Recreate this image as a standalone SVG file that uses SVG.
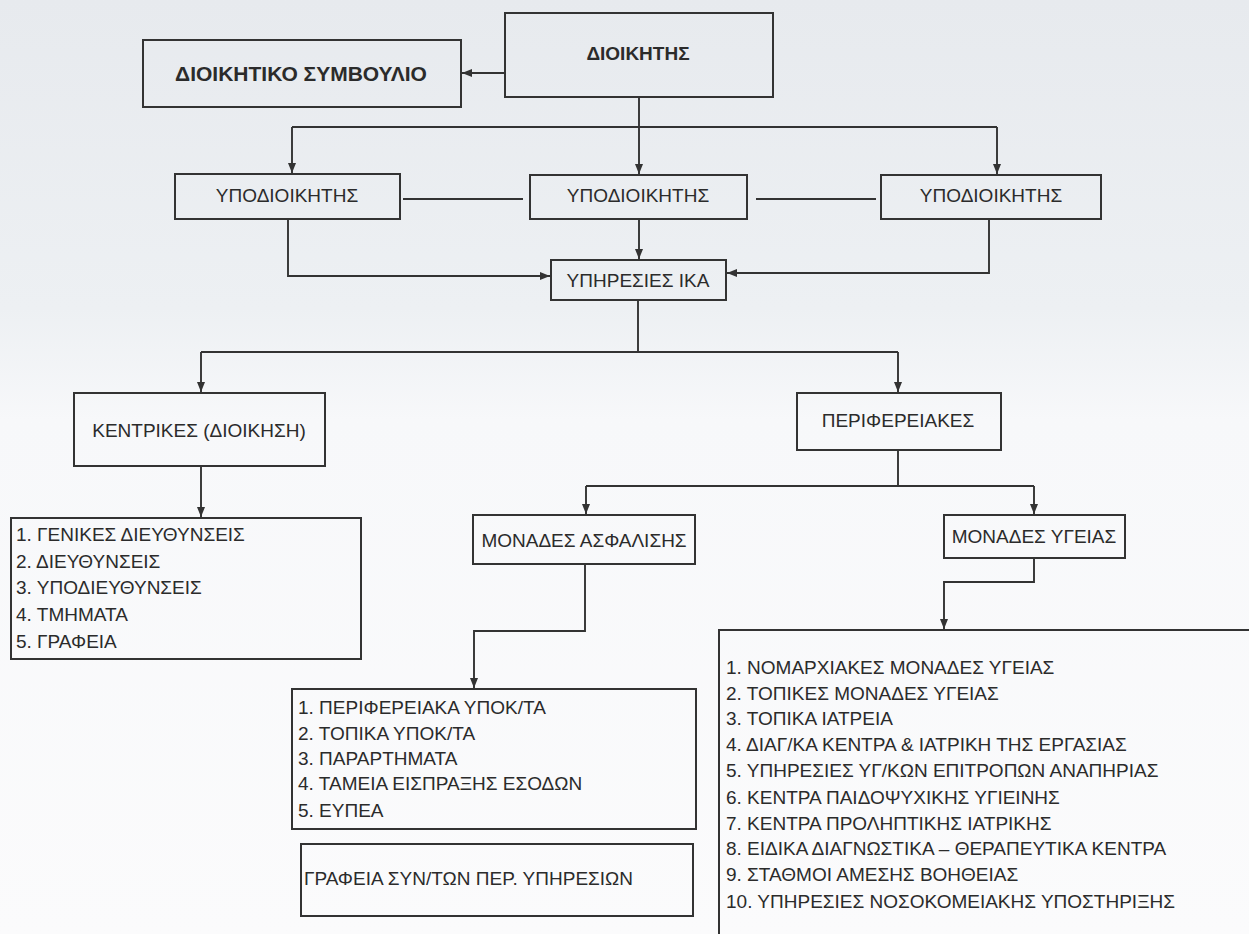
<svg xmlns="http://www.w3.org/2000/svg" width="1249" height="934" viewBox="0 0 1249 934">
<style>
.box{fill:none;stroke:#333;stroke-width:2}
.t{font-family:"Liberation Sans",Arial,sans-serif;font-size:19px;fill:#2b2b2b}
.c{text-anchor:middle}
.b{font-weight:bold;font-size:19px}
.b2{font-weight:bold;font-size:21px}
.ln{fill:none;stroke:#333;stroke-width:1.9}
</style>
<defs>
<linearGradient id="bg" x1="0" y1="0" x2="0" y2="1">
<stop offset="0" stop-color="#e7eaee"/>
<stop offset="0.33" stop-color="#edf0f3"/>
<stop offset="0.45" stop-color="#f7f8fa"/>
<stop offset="1" stop-color="#fbfbfc"/>
</linearGradient>
<marker id="ah" markerUnits="userSpaceOnUse" markerWidth="10" markerHeight="8" refX="10" refY="4" orient="auto">
<path d="M0,0 L10,4 L0,8 z" fill="#333"/>
</marker>
</defs>
<rect x="0" y="0" width="1249" height="934" fill="url(#bg)"/>

<g id="connectors">
<path class="ln" d="M505,73 L462,73" marker-end="url(#ah)"/>
<path class="ln" d="M639,97 L639,174" marker-end="url(#ah)"/>
<path class="ln" d="M292,127 L997,127"/>
<path class="ln" d="M292,127 L292,173" marker-end="url(#ah)"/>
<path class="ln" d="M997,127 L997,174" marker-end="url(#ah)"/>
<path class="ln" d="M403,199 L523,199"/>
<path class="ln" d="M756,199 L876,199"/>
<path class="ln" d="M639,219 L639,259" marker-end="url(#ah)"/>
<path class="ln" d="M288,219 L288,276 L550,276" marker-end="url(#ah)"/>
<path class="ln" d="M989,219 L989,273 L727,273" marker-end="url(#ah)"/>
<path class="ln" d="M638,300 L638,352"/>
<path class="ln" d="M201,352 L898,352"/>
<path class="ln" d="M201,352 L201,392" marker-end="url(#ah)"/>
<path class="ln" d="M898,352 L898,392" marker-end="url(#ah)"/>
<path class="ln" d="M201,466 L201,517" marker-end="url(#ah)"/>
<path class="ln" d="M898,450 L898,486"/>
<path class="ln" d="M586,486 L1034,486"/>
<path class="ln" d="M586,486 L586,514" marker-end="url(#ah)"/>
<path class="ln" d="M1034,486 L1034,514" marker-end="url(#ah)"/>
<path class="ln" d="M585,564 L585,631 L474,631 L474,688" marker-end="url(#ah)"/>
<path class="ln" d="M1034,558 L1034,582 L944,582 L944,629" marker-end="url(#ah)"/>
</g>

<g id="dioikitiko-symvoulio">
<rect class="box" x="143" y="40" width="318" height="67"/>
<text class="t c b2" x="301" y="81">ΔΙΟΙΚΗΤΙΚΟ ΣΥΜΒΟΥΛΙΟ</text>
</g>
<g id="dioikitis">
<rect class="box" x="505" y="13" width="268" height="84"/>
<text class="t c b" x="638" y="60">ΔΙΟΙΚΗΤΗΣ</text>
</g>
<g id="ypodioikitis-1">
<rect class="box" x="175" y="174" width="225" height="45"/>
<text class="t c" x="287" y="202">ΥΠΟΔΙΟΙΚΗΤΗΣ</text>
</g>
<g id="ypodioikitis-2">
<rect class="box" x="530" y="175" width="217" height="44"/>
<text class="t c" x="638" y="202">ΥΠΟΔΙΟΙΚΗΤΗΣ</text>
</g>
<g id="ypodioikitis-3">
<rect class="box" x="881" y="175" width="220" height="44"/>
<text class="t c" x="991" y="202">ΥΠΟΔΙΟΙΚΗΤΗΣ</text>
</g>
<g id="ypiresies-ika">
<rect class="box" x="551" y="260" width="175" height="40"/>
<text class="t c" x="638" y="287">ΥΠΗΡΕΣΙΕΣ ΙΚΑ</text>
</g>
<g id="kentrikes">
<rect class="box" x="74" y="393" width="251" height="73"/>
<text class="t c" x="199" y="437">ΚΕΝΤΡΙΚΕΣ (ΔΙΟΙΚΗΣΗ)</text>
</g>
<g id="perifereiakes">
<rect class="box" x="797" y="393" width="204" height="57"/>
<text class="t c" x="898" y="427">ΠΕΡΙΦΕΡΕΙΑΚΕΣ</text>
</g>
<g id="kentrikes-list">
<rect class="box" x="11" y="518" width="350" height="141"/>
<text class="t" x="16" y="541">1. ΓΕΝΙΚΕΣ ΔΙΕΥΘΥΝΣΕΙΣ</text>
<text class="t" x="16" y="568">2. ΔΙΕΥΘΥΝΣΕΙΣ</text>
<text class="t" x="16" y="594">3. ΥΠΟΔΙΕΥΘΥΝΣΕΙΣ</text>
<text class="t" x="16" y="621">4. ΤΜΗΜΑΤΑ</text>
<text class="t" x="16" y="648">5. ΓΡΑΦΕΙΑ</text>
</g>
<g id="monades-asfalisis">
<rect class="box" x="473" y="515" width="222" height="49"/>
<text class="t c" x="584" y="547">ΜΟΝΑΔΕΣ ΑΣΦΑΛΙΣΗΣ</text>
</g>
<g id="monades-ygeias">
<rect class="box" x="944" y="515" width="181" height="43"/>
<text class="t c" x="1034" y="543">ΜΟΝΑΔΕΣ ΥΓΕΙΑΣ</text>
</g>
<g id="asfalisis-list">
<rect class="box" x="292" y="689" width="404" height="140"/>
<text class="t" x="298" y="714">1. ΠΕΡΙΦΕΡΕΙΑΚΑ ΥΠΟΚ/ΤΑ</text>
<text class="t" x="298" y="740">2. ΤΟΠΙΚΑ ΥΠΟΚ/ΤΑ</text>
<text class="t" x="298" y="765">3. ΠΑΡΑΡΤΗΜΑΤΑ</text>
<text class="t" x="298" y="790">4. ΤΑΜΕΙΑ ΕΙΣΠΡΑΞΗΣ ΕΣΟΔΩΝ</text>
<text class="t" x="298" y="817">5. ΕΥΠΕΑ</text>
</g>
<g id="grafeia-syntoniston">
<rect class="box" x="301" y="844" width="392" height="72"/>
<text class="t" x="304" y="885">ΓΡΑΦΕΙΑ ΣΥΝ/ΤΩΝ ΠΕΡ. ΥΠΗΡΕΣΙΩΝ</text>
</g>
<g id="ygeias-list">
<path class="box" d="M1252,630 L719,630 L719,938"/>
<text class="t" x="726" y="674">1. ΝΟΜΑΡΧΙΑΚΕΣ ΜΟΝΑΔΕΣ ΥΓΕΙΑΣ</text>
<text class="t" x="726" y="700">2. ΤΟΠΙΚΕΣ ΜΟΝΑΔΕΣ ΥΓΕΙΑΣ</text>
<text class="t" x="726" y="725">3. ΤΟΠΙΚΑ ΙΑΤΡΕΙΑ</text>
<text class="t" x="726" y="751">4. ΔΙΑΓ/ΚΑ ΚΕΝΤΡΑ &amp; ΙΑΤΡΙΚΗ ΤΗΣ ΕΡΓΑΣΙΑΣ</text>
<text class="t" x="726" y="777">5. ΥΠΗΡΕΣΙΕΣ ΥΓ/ΚΩΝ ΕΠΙΤΡΟΠΩΝ ΑΝΑΠΗΡΙΑΣ</text>
<text class="t" x="726" y="804">6. ΚΕΝΤΡΑ ΠΑΙΔΟΨΥΧΙΚΗΣ ΥΓΙΕΙΝΗΣ</text>
<text class="t" x="726" y="830">7. ΚΕΝΤΡΑ ΠΡΟΛΗΠΤΙΚΗΣ ΙΑΤΡΙΚΗΣ</text>
<text class="t" x="726" y="855">8. ΕΙΔΙΚΑ ΔΙΑΓΝΩΣΤΙΚΑ – ΘΕΡΑΠΕΥΤΙΚΑ ΚΕΝΤΡΑ</text>
<text class="t" x="726" y="881">9. ΣΤΑΘΜΟΙ ΑΜΕΣΗΣ ΒΟΗΘΕΙΑΣ</text>
<text class="t" x="726" y="908">10. ΥΠΗΡΕΣΙΕΣ ΝΟΣΟΚΟΜΕΙΑΚΗΣ ΥΠΟΣΤΗΡΙΞΗΣ</text>
</g>
</svg>
